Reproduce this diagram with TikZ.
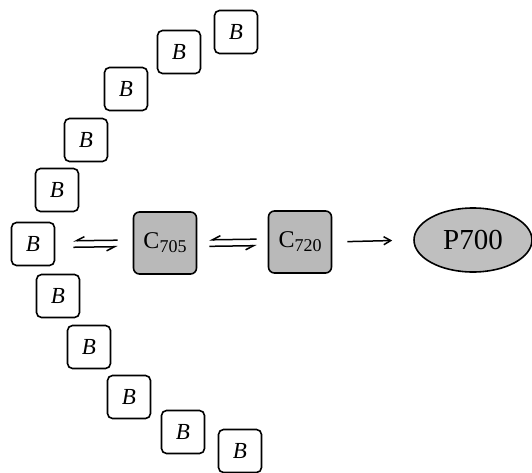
\documentclass[tikz,border=0pt]{standalone}
\usepackage{fontspec}
\setmainfont{Liberation Serif}
\usetikzlibrary{arrows.meta,shapes.geometric}
\begin{document}
\begin{tikzpicture}[x=1pt,y=1pt,
  bbox/.style={draw=black,line width=1.6pt,rounded corners=5pt,fill=white,
    minimum width=43pt,minimum height=43pt,inner sep=0pt,
    font=\fontsize{23}{23}\selectfont\itshape},
  cbox/.style={draw=black,line width=1.6pt,rounded corners=6pt,fill=gray!55,
    minimum width=63pt,minimum height=62pt,inner sep=0pt,
    font=\fontsize{24}{24}\selectfont},
  pell/.style={draw=black,line width=1.6pt,ellipse,fill=gray!50,
    minimum width=118pt,minimum height=64pt,inner sep=0pt,
    font=\fontsize{29}{29}\selectfont},
  hup/.style={line width=1.5pt,-{Straight Barb[harpoon,swap,length=8pt,width=8pt]}},
  plain/.style={line width=1.5pt,-{Straight Barb[length=7pt,width=8pt]}}]
\useasboundingbox (0,0) rectangle (532,472);
\newcommand{\sub}[1]{{\fontsize{18}{18}\selectfont\raisebox{-4pt}{#1}}}
% arc of B units
\node[bbox] (b1)  at (236,440) {B};
\node[bbox] (b2)  at (179,420) {B};
\node[bbox] (b3)  at (126,383) {B};
\node[bbox] (b4)  at (86,332)  {B};
\node[bbox] (b5)  at (57,282)  {B};
\node[bbox] (b6)  at (33,228)  {B};
\node[bbox] (b7)  at (58,176)  {B};
\node[bbox] (b8)  at (89,125)  {B};
\node[bbox] (b9)  at (129,75)  {B};
\node[bbox] (b10) at (183,40)  {B};
\node[bbox] (b11) at (240,21)  {B};
% chlorophyll forms and reaction centre
\node[cbox] (c705) at (165,229) {C\sub{705}};
\node[cbox] (c720) at (300,230) {C\sub{720}};
\node[pell] (p700) at (473,232) {P700};
% equilibria and transfer
\draw[hup,shorten >=18pt,shorten <=15pt] ([yshift=3pt]c705.west) -- ([yshift=3pt]b6.east);
\draw[hup,shorten >=15pt,shorten <=18pt] ([yshift=-3.5pt]b6.east) -- ([yshift=-3.5pt]c705.west);
\draw[hup,shorten >=12pt,shorten <=11pt] ([yshift=3pt]c720.west) -- ([yshift=3pt]c705.east);
\draw[hup,shorten >=11pt,shorten <=12pt] ([yshift=-3.5pt]c705.east) -- ([yshift=-3.5pt]c720.west);
\draw[plain,shorten <=15pt,shorten >=21pt] (c720.east) -- (p700.west);
\end{tikzpicture}
\end{document}
